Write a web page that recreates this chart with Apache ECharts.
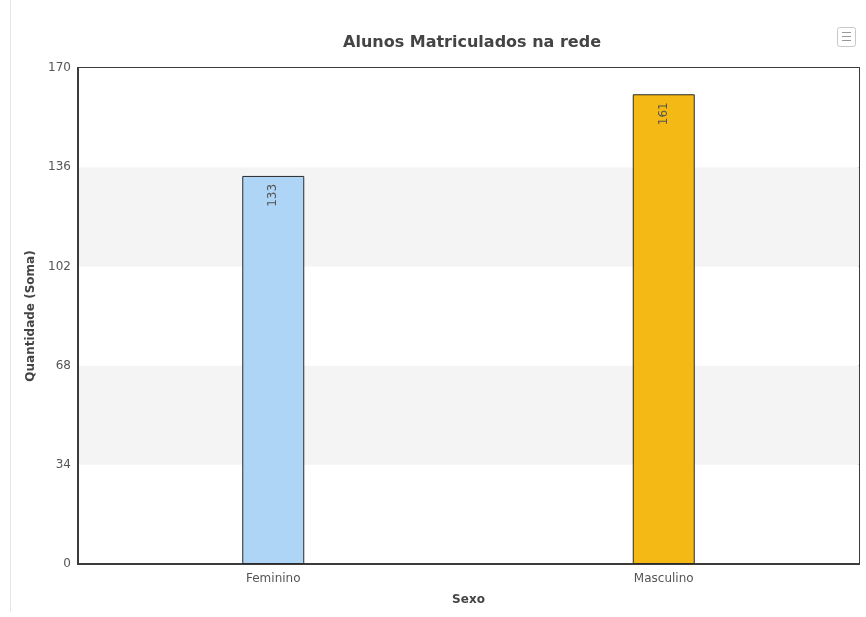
<!DOCTYPE html>
<html>
<head>
<meta charset="utf-8">
<script src="https://cdn.jsdelivr.net/npm/echarts@6/dist/echarts.min.js"></script>
<style>
  html, body { margin: 0; padding: 0; background: #fff; }
  #chart { width: 866px; height: 617px; }
</style>
</head>
<body>
<div id="chart"></div>
<script>
const categories = ['Feminino', 'Masculino'];
const values = [133, 161];
const barColors = ['#aed5f6', '#f4b914'];

const chart = echarts.init(document.getElementById('chart'));

const option = {
  animation: false,
  textStyle: { fontFamily: 'DejaVu Sans' },
  title: {
    text: 'Alunos Matriculados na rede',
    left: 467,
    top: 30,
    textAlign: 'center',
    textStyle: { fontSize: 16, fontWeight: 'bold', color: '#444' }
  },
  graphic: [
    { type: 'line', shape: { x1: 10.5, y1: 0, x2: 10.5, y2: 612 }, style: { stroke: '#e6e6e6', lineWidth: 1 } },
    { type: 'rect', shape: { x: 837.5, y: 27.5, width: 18, height: 19, r: 2 }, style: { fill: '#fff', stroke: '#c8c8c8', lineWidth: 1 } },
    { type: 'line', shape: { x1: 842, y1: 32.5, x2: 851, y2: 32.5 }, style: { stroke: '#999', lineWidth: 1 } },
    { type: 'line', shape: { x1: 842, y1: 36.5, x2: 851, y2: 36.5 }, style: { stroke: '#999', lineWidth: 1 } },
    { type: 'line', shape: { x1: 842, y1: 40.5, x2: 851, y2: 40.5 }, style: { stroke: '#999', lineWidth: 1 } }
  ],
  grid: {
    left: 78, right: 7, top: 68, bottom: 53,
    show: true, borderColor: '#3c3c3c', borderWidth: 2, backgroundColor: 'transparent'
  },
  xAxis: {
    type: 'category',
    data: categories,
    name: 'Sexo',
    nameLocation: 'middle',
    nameGap: 30,
    nameTextStyle: { fontSize: 12, fontWeight: 'bold', color: '#444' },
    axisLine: { lineStyle: { color: '#3c3c3c', width: 2 } },
    axisTick: { show: false },
    axisLabel: { fontSize: 12, color: '#555', margin: 9 },
    splitLine: { show: false }
  },
  yAxis: {
    type: 'value',
    min: 0,
    max: 170,
    interval: 34,
    name: 'Quantidade (Soma)',
    nameLocation: 'middle',
    nameGap: 33,
    nameTextStyle: { fontSize: 12, fontWeight: 'bold', color: '#444' },
    axisLine: { show: true, lineStyle: { color: '#3c3c3c', width: 2 } },
    axisTick: { show: false },
    axisLabel: { fontSize: 12, color: '#555', margin: 7 },
    splitLine: { show: false },
    splitArea: { show: true, areaStyle: { color: ['#ffffff', '#f4f4f4'] } }
  },
  series: [{
    type: 'bar',
    barWidth: 62,
    data: values.map((v, i) => ({
      value: v,
      itemStyle: { color: barColors[i], borderColor: '#2a2a2a', borderWidth: 1 }
    })),
    label: {
      show: true,
      position: 'insideTop',
      rotate: 90,
      align: 'right',
      verticalAlign: 'middle',
      distance: 8,
      fontSize: 12,
      color: '#555'
    }
  }]
};

chart.setOption(option);
</script>
</body>
</html>
